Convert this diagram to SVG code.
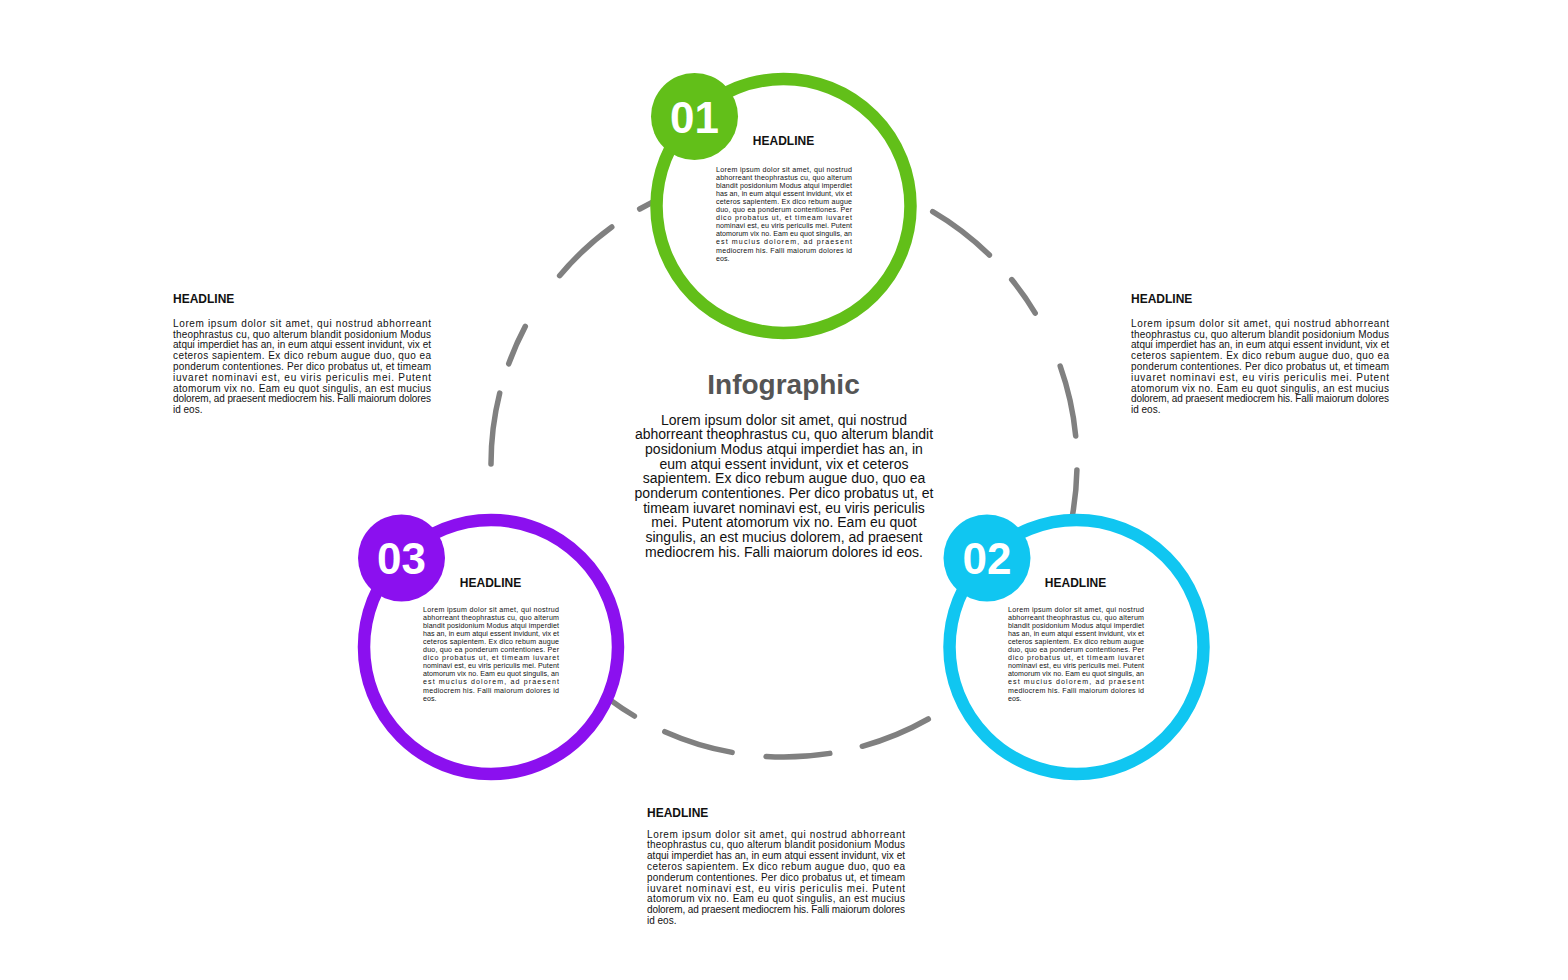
<svg xmlns="http://www.w3.org/2000/svg" width="1568" height="980" viewBox="0 0 1568 980">
<style>
.bg{fill:#ffffff}
.dash{fill:none;stroke:#808080;stroke-width:5.5;stroke-linecap:round}
.ring{fill:#ffffff;stroke-width:12.5}
.num{font-family:"Liberation Sans",Arial,sans-serif;font-weight:bold;font-size:44px;fill:#ffffff;text-anchor:middle}
.hl{font-family:"Liberation Sans",Arial,sans-serif;font-weight:bold;font-size:12px;fill:#111111}
.hlc{font-family:"Liberation Sans",Arial,sans-serif;font-weight:bold;font-size:12px;fill:#111111;text-anchor:middle}
.p10{font-family:"Liberation Sans",Arial,sans-serif;font-size:10px;fill:#111111}
.p7{font-family:"Liberation Sans",Arial,sans-serif;font-size:7.1px;fill:#111111}
.title{font-family:"Liberation Sans",Arial,sans-serif;font-weight:bold;font-size:28px;fill:#555555;text-anchor:middle}
.pc{font-family:"Liberation Sans",Arial,sans-serif;font-size:14px;fill:#111111;text-anchor:middle}
</style>
<rect class="bg" x="0" y="0" width="1568" height="980"/>

<g id="connectors">
<path class="dash" d="M491,464 A293,293 0 0 1 499.7,393.1"/>
<path class="dash" d="M508.7,363.8 A293,293 0 0 1 525.3,326.4"/>
<path class="dash" d="M559.6,275.7 A293,293 0 0 1 611.8,227"/>
<path class="dash" d="M639.7,209 A293,293 0 0 1 693.5,185.3"/>
<path class="dash" d="M932.7,211.6 A293,293 0 0 1 989.4,255"/>
<path class="dash" d="M1011.7,279.6 A293,293 0 0 1 1035.2,313.1"/>
<path class="dash" d="M1060.2,366.2 A293,293 0 0 1 1075.7,435.9"/>
<path class="dash" d="M1076.9,470.1 A293,293 0 0 1 1070.6,524.9"/>
<path class="dash" d="M928.3,719 A293,293 0 0 1 862.3,746.3"/>
<path class="dash" d="M829.8,753.4 A293,293 0 0 1 766.1,756.5"/>
<path class="dash" d="M732.1,752.4 A293,293 0 0 1 664.8,731.7"/>
<path class="dash" d="M634.4,716 A293,293 0 0 1 587.9,681.7"/>
</g>

<g id="step-01">
<circle class="ring" cx="783.5" cy="206" r="127" stroke="#62BF19"/>
<circle cx="694.5" cy="116.5" r="43.5" fill="#62BF19"/>
<text class="num" x="694.5" y="133">01</text>
<text class="hlc" x="783.5" y="145.3">HEADLINE</text>
<g class="p7">
<text x="716" y="171.5" textLength="136" lengthAdjust="spacing">Lorem ipsum dolor sit amet, qui nostrud</text>
<text x="716" y="179.6" textLength="136" lengthAdjust="spacing">abhorreant theophrastus cu, quo alterum</text>
<text x="716" y="187.7" textLength="136" lengthAdjust="spacing">blandit posidonium Modus atqui imperdiet</text>
<text x="716" y="195.8" textLength="136" lengthAdjust="spacing">has an, in eum atqui essent invidunt, vix et</text>
<text x="716" y="203.9" textLength="136" lengthAdjust="spacing">ceteros sapientem. Ex dico rebum augue</text>
<text x="716" y="212" textLength="136" lengthAdjust="spacing">duo, quo ea ponderum contentiones. Per</text>
<text x="716" y="220.1" textLength="136" lengthAdjust="spacing">dico probatus ut, et timeam iuvaret</text>
<text x="716" y="228.2" textLength="136" lengthAdjust="spacing">nominavi est, eu viris periculis mei. Putent</text>
<text x="716" y="236.3" textLength="136" lengthAdjust="spacing">atomorum vix no. Eam eu quot singulis, an</text>
<text x="716" y="244.4" textLength="136" lengthAdjust="spacing">est mucius dolorem, ad praesent</text>
<text x="716" y="252.5" textLength="136" lengthAdjust="spacing">mediocrem his. Falli maiorum dolores id</text>
<text x="716" y="260.6">eos.</text>
</g>
</g>

<g id="step-02">
<circle class="ring" cx="1076.5" cy="647" r="127" stroke="#10C6F1"/>
<circle cx="987" cy="558" r="43.5" fill="#10C6F1"/>
<text class="num" x="987" y="573.5">02</text>
<text class="hlc" x="1075.5" y="587">HEADLINE</text>
<g class="p7">
<text x="1008" y="611.5" textLength="136" lengthAdjust="spacing">Lorem ipsum dolor sit amet, qui nostrud</text>
<text x="1008" y="619.6" textLength="136" lengthAdjust="spacing">abhorreant theophrastus cu, quo alterum</text>
<text x="1008" y="627.7" textLength="136" lengthAdjust="spacing">blandit posidonium Modus atqui imperdiet</text>
<text x="1008" y="635.8" textLength="136" lengthAdjust="spacing">has an, in eum atqui essent invidunt, vix et</text>
<text x="1008" y="643.9" textLength="136" lengthAdjust="spacing">ceteros sapientem. Ex dico rebum augue</text>
<text x="1008" y="652" textLength="136" lengthAdjust="spacing">duo, quo ea ponderum contentiones. Per</text>
<text x="1008" y="660.1" textLength="136" lengthAdjust="spacing">dico probatus ut, et timeam iuvaret</text>
<text x="1008" y="668.2" textLength="136" lengthAdjust="spacing">nominavi est, eu viris periculis mei. Putent</text>
<text x="1008" y="676.3" textLength="136" lengthAdjust="spacing">atomorum vix no. Eam eu quot singulis, an</text>
<text x="1008" y="684.4" textLength="136" lengthAdjust="spacing">est mucius dolorem, ad praesent</text>
<text x="1008" y="692.5" textLength="136" lengthAdjust="spacing">mediocrem his. Falli maiorum dolores id</text>
<text x="1008" y="700.6">eos.</text>
</g>
</g>

<g id="step-03">
<circle class="ring" cx="491" cy="647" r="127" stroke="#8B10EF"/>
<circle cx="401.5" cy="558" r="43.5" fill="#8B10EF"/>
<text class="num" x="401.5" y="573.5">03</text>
<text class="hlc" x="490.5" y="586.8">HEADLINE</text>
<g class="p7">
<text x="423" y="611.5" textLength="136" lengthAdjust="spacing">Lorem ipsum dolor sit amet, qui nostrud</text>
<text x="423" y="619.6" textLength="136" lengthAdjust="spacing">abhorreant theophrastus cu, quo alterum</text>
<text x="423" y="627.7" textLength="136" lengthAdjust="spacing">blandit posidonium Modus atqui imperdiet</text>
<text x="423" y="635.8" textLength="136" lengthAdjust="spacing">has an, in eum atqui essent invidunt, vix et</text>
<text x="423" y="643.9" textLength="136" lengthAdjust="spacing">ceteros sapientem. Ex dico rebum augue</text>
<text x="423" y="652" textLength="136" lengthAdjust="spacing">duo, quo ea ponderum contentiones. Per</text>
<text x="423" y="660.1" textLength="136" lengthAdjust="spacing">dico probatus ut, et timeam iuvaret</text>
<text x="423" y="668.2" textLength="136" lengthAdjust="spacing">nominavi est, eu viris periculis mei. Putent</text>
<text x="423" y="676.3" textLength="136" lengthAdjust="spacing">atomorum vix no. Eam eu quot singulis, an</text>
<text x="423" y="684.4" textLength="136" lengthAdjust="spacing">est mucius dolorem, ad praesent</text>
<text x="423" y="692.5" textLength="136" lengthAdjust="spacing">mediocrem his. Falli maiorum dolores id</text>
<text x="423" y="700.6">eos.</text>
</g>
</g>

<g id="center">
<text class="title" x="783.5" y="394">Infographic</text>
<text class="pc" x="784" y="424.5">Lorem ipsum dolor sit amet, qui nostrud</text>
<text class="pc" x="784" y="439.2">abhorreant theophrastus cu, quo alterum blandit</text>
<text class="pc" x="784" y="453.9">posidonium Modus atqui imperdiet has an, in</text>
<text class="pc" x="784" y="468.6">eum atqui essent invidunt, vix et ceteros</text>
<text class="pc" x="784" y="483.3">sapientem. Ex dico rebum augue duo, quo ea</text>
<text class="pc" x="784" y="498">ponderum contentiones. Per dico probatus ut, et</text>
<text class="pc" x="784" y="512.7">timeam iuvaret nominavi est, eu viris periculis</text>
<text class="pc" x="784" y="527.4">mei. Putent atomorum vix no. Eam eu quot</text>
<text class="pc" x="784" y="542.1">singulis, an est mucius dolorem, ad praesent</text>
<text class="pc" x="784" y="556.8">mediocrem his. Falli maiorum dolores id eos.</text>
</g>

<g id="text-left">
<text class="hl" x="173" y="302.5">HEADLINE</text>
<g class="p10">
<text x="173" y="326.8" textLength="258" lengthAdjust="spacing">Lorem ipsum dolor sit amet, qui nostrud abhorreant</text>
<text x="173" y="337.6" textLength="258" lengthAdjust="spacing">theophrastus cu, quo alterum blandit posidonium Modus</text>
<text x="173" y="348.4" textLength="258" lengthAdjust="spacing">atqui imperdiet has an, in eum atqui essent invidunt, vix et</text>
<text x="173" y="359.2" textLength="258" lengthAdjust="spacing">ceteros sapientem. Ex dico rebum augue duo, quo ea</text>
<text x="173" y="370" textLength="258" lengthAdjust="spacing">ponderum contentiones. Per dico probatus ut, et timeam</text>
<text x="173" y="380.8" textLength="258" lengthAdjust="spacing">iuvaret nominavi est, eu viris periculis mei. Putent</text>
<text x="173" y="391.6" textLength="258" lengthAdjust="spacing">atomorum vix no. Eam eu quot singulis, an est mucius</text>
<text x="173" y="402.4" textLength="258" lengthAdjust="spacing">dolorem, ad praesent mediocrem his. Falli maiorum dolores</text>
<text x="173" y="413.2">id eos.</text>
</g>
</g>

<g id="text-right">
<text class="hl" x="1131" y="302.5">HEADLINE</text>
<g class="p10">
<text x="1131" y="326.8" textLength="258" lengthAdjust="spacing">Lorem ipsum dolor sit amet, qui nostrud abhorreant</text>
<text x="1131" y="337.6" textLength="258" lengthAdjust="spacing">theophrastus cu, quo alterum blandit posidonium Modus</text>
<text x="1131" y="348.4" textLength="258" lengthAdjust="spacing">atqui imperdiet has an, in eum atqui essent invidunt, vix et</text>
<text x="1131" y="359.2" textLength="258" lengthAdjust="spacing">ceteros sapientem. Ex dico rebum augue duo, quo ea</text>
<text x="1131" y="370" textLength="258" lengthAdjust="spacing">ponderum contentiones. Per dico probatus ut, et timeam</text>
<text x="1131" y="380.8" textLength="258" lengthAdjust="spacing">iuvaret nominavi est, eu viris periculis mei. Putent</text>
<text x="1131" y="391.6" textLength="258" lengthAdjust="spacing">atomorum vix no. Eam eu quot singulis, an est mucius</text>
<text x="1131" y="402.4" textLength="258" lengthAdjust="spacing">dolorem, ad praesent mediocrem his. Falli maiorum dolores</text>
<text x="1131" y="413.2">id eos.</text>
</g>
</g>

<g id="text-bottom">
<text class="hl" x="647" y="817">HEADLINE</text>
<g class="p10">
<text x="647" y="837.5" textLength="258" lengthAdjust="spacing">Lorem ipsum dolor sit amet, qui nostrud abhorreant</text>
<text x="647" y="848.3" textLength="258" lengthAdjust="spacing">theophrastus cu, quo alterum blandit posidonium Modus</text>
<text x="647" y="859.1" textLength="258" lengthAdjust="spacing">atqui imperdiet has an, in eum atqui essent invidunt, vix et</text>
<text x="647" y="869.9" textLength="258" lengthAdjust="spacing">ceteros sapientem. Ex dico rebum augue duo, quo ea</text>
<text x="647" y="880.7" textLength="258" lengthAdjust="spacing">ponderum contentiones. Per dico probatus ut, et timeam</text>
<text x="647" y="891.5" textLength="258" lengthAdjust="spacing">iuvaret nominavi est, eu viris periculis mei. Putent</text>
<text x="647" y="902.3" textLength="258" lengthAdjust="spacing">atomorum vix no. Eam eu quot singulis, an est mucius</text>
<text x="647" y="913.1" textLength="258" lengthAdjust="spacing">dolorem, ad praesent mediocrem his. Falli maiorum dolores</text>
<text x="647" y="923.9">id eos.</text>
</g>
</g>
</svg>
